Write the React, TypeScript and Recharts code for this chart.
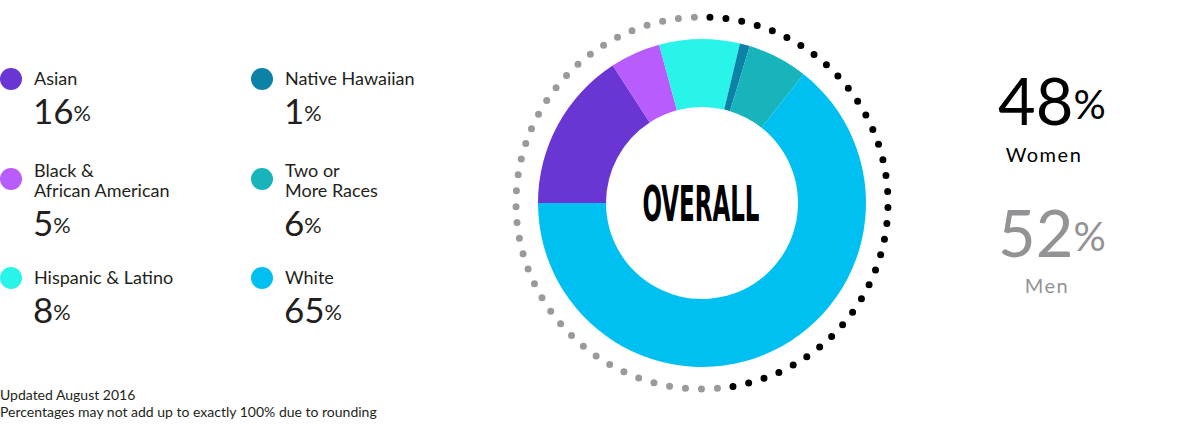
import { Label, Pie, PieChart, Cell } from "recharts";

const RACES = ["Asian", "Black & African American", "Hispanic & Latino", "Native Hawaiian", "Two or More Races", "White"];
const RACE_LINES = [["Asian"], ["Black &", "African American"], ["Hispanic & Latino"], ["Native Hawaiian"], ["Two or", "More Races"], ["White"]];
const RACE_SHARES = [16, 5, 8, 1, 6, 65];
const RACE_COLORS = ["#6936d4", "#b85cfd", "#29f4ea", "#0b82a6", "#17b5bb", "#00c0f2"];

const GENDERS = ["Women", "Men"];
const GENDER_SHARES = [48, 52];
const GENDER_COLORS = ["#000000", "#9a9a9e"];

const CENTER_LABEL = "OVERALL";
const NOTES = ["Updated August 2016", "Percentages may not add up to exactly 100% due to rounding"];

const raceData = RACES.map((name, i) => ({ name, share: RACE_SHARES[i], color: RACE_COLORS[i] }));
const genderData = GENDERS.map((name, i) => ({ name, share: GENDER_SHARES[i], color: GENDER_COLORS[i] }));

const FONT = "Lato, 'Noto Sans', sans-serif";
const INK = "#231f20";
const CX = 702;
const CY = 203;
const RAD = Math.PI / 180;

function polar(cx: number, cy: number, r: number, angle: number) {
  return { x: cx + Math.cos(-angle * RAD) * r, y: cy + Math.sin(-angle * RAD) * r };
}

// dotted outer ring: one arc per gender, dots spread evenly along the sector
function DotArc(props: any) {
  const { cx, cy, outerRadius, startAngle, endAngle, index } = props;
  const delta = endAngle - startAngle;
  const a = polar(cx, cy, outerRadius, startAngle);
  const b = polar(cx, cy, outerRadius, endAngle);
  const len = Math.abs(delta) * RAD * outerRadius;
  const n = Math.max(1, Math.round(len / 16));
  const gap = len / n;
  const d = `M ${a.x},${a.y} A ${outerRadius},${outerRadius} 0 ${Math.abs(delta) > 180 ? 1 : 0} ${delta < 0 ? 1 : 0} ${b.x},${b.y}`;
  return (
    <path
      d={d}
      fill="none"
      stroke={GENDER_COLORS[index]}
      strokeWidth={7}
      strokeLinecap="round"
      strokeDasharray={`0 ${gap}`}
      strokeDashoffset={gap / 2}
    />
  );
}

function CenterText(props: any) {
  const vb = props.viewBox || {};
  const x = typeof vb.cx === "number" ? vb.cx : CX;
  const y = typeof vb.cy === "number" ? vb.cy : CY;
  return (
    <text
      x={x - 1}
      y={y + 18}
      textAnchor="middle"
      fontFamily="'Liberation Sans Narrow', 'DejaVu Sans Condensed', sans-serif"
      fontWeight={700}
      fontSize={50}
      textLength={117}
      lengthAdjust="spacingAndGlyphs"
      fill="#000"
    >
      {CENTER_LABEL}
    </text>
  );
}

function Percent({ x, y, value, size, color }: { x: number; y: number; value: number; size: number; color: string }) {
  return (
    <text x={x} y={y} fontFamily={FONT} fontSize={size} fill={color}>
      {value}
      <tspan fontSize={size * 0.62} dy={-size * 0.09}>%</tspan>
    </text>
  );
}

function Legend() {
  const rowY = [79, 179, 278];
  return (
    <g>
      {RACES.map((name, i) => {
        const col = i < 3 ? 0 : 1;
        const row = i % 3;
        const dx = col === 0 ? 11 : 262;
        const dy = rowY[row];
        const lines = RACE_LINES[i];
        const first = lines.length > 1 ? dy - 2 : dy + 6;
        const last = first + (lines.length - 1) * 20;
        return (
          <g key={name}>
            <circle cx={dx} cy={dy} r={11} fill={RACE_COLORS[i]} />
            {lines.map((ln, k) => (
              <text key={k} x={dx + 23} y={first + k * 20} fontFamily={FONT} fontSize={18} fill={INK}>
                {ln}
              </text>
            ))}
            <Percent x={dx + 22} y={last + 39} value={RACE_SHARES[i]} size={35} color={INK} />
          </g>
        );
      })}
    </g>
  );
}

export default function App() {
  return (
    <div style={{ position: "absolute", left: 0, top: 0, width: 1200, height: 440, background: "#fff" }}>
      <div style={{ position: "absolute", left: 0, top: 0 }}>
        <PieChart width={1200} height={440} margin={{ top: 0, right: 0, bottom: 0, left: 0 }}>
          <Pie
            data={raceData}
            dataKey="share"
            nameKey="name"
            cx={CX}
            cy={CY}
            innerRadius={96}
            outerRadius={164}
            startAngle={180}
            endAngle={-180}
            stroke="none"
            isAnimationActive={false}
          >
            {raceData.map((d) => (
              <Cell key={d.name} fill={d.color} />
            ))}
            <Label position="center" content={CenterText} />
          </Pie>
          <Pie
            data={genderData}
            dataKey="share"
            nameKey="name"
            cx={CX}
            cy={CY}
            innerRadius={186}
            outerRadius={186}
            startAngle={90}
            endAngle={-270}
            fill="none"
            stroke="none"
            label={DotArc}
            labelLine={false}
            isAnimationActive={false}
          />
        </PieChart>
      </div>
      <svg width={1200} height={440} style={{ position: "absolute", left: 0, top: 0, pointerEvents: "none" }}>
        <Legend />
        <Percent x={998} y={125} value={GENDER_SHARES[0]} size={65} color="#000" />
        <text x={1044} y={162} textAnchor="middle" fontFamily={FONT} fontSize={20} letterSpacing={1.5} fill="#000">
          {GENDERS[0]}
        </text>
        <Percent x={998} y={257} value={GENDER_SHARES[1]} size={65} color="#939396" />
        <text x={1047} y={293} textAnchor="middle" fontFamily={FONT} fontSize={20} letterSpacing={1.5} fill="#939396">
          {GENDERS[1]}
        </text>
        {NOTES.map((t, i) => (
          <text key={i} x={0} y={400 + i * 17} fontFamily={FONT} fontSize={14} fill={INK}>
            {t}
          </text>
        ))}
      </svg>
    </div>
  );
}
